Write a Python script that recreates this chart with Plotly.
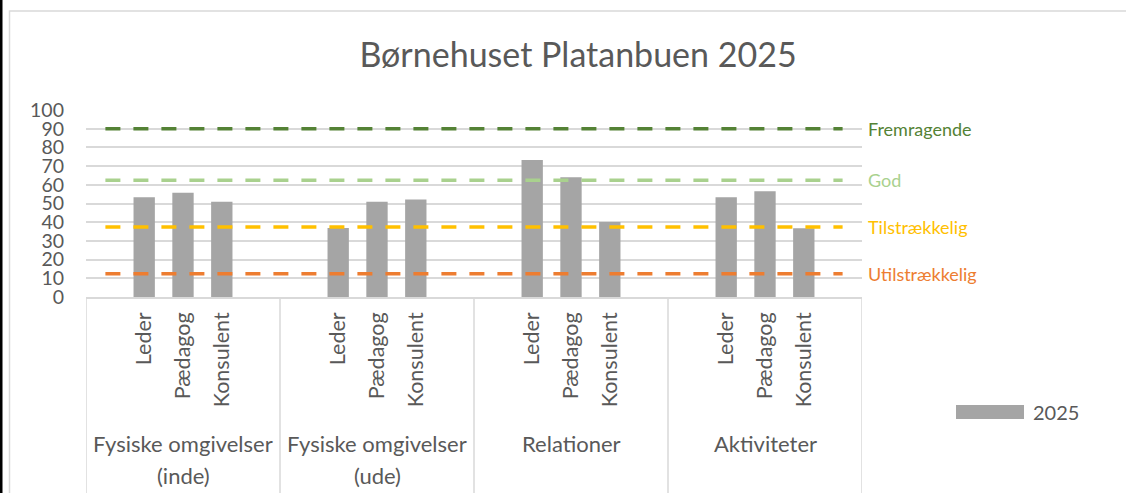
import plotly.graph_objects as go

# ---- data ----
title_text = "Børnehuset Platanbuen 2025"
group_line1 = ["Fysiske omgivelser", "Fysiske omgivelser", "Relationer", "Aktiviteter"]
group_line2 = ["(inde)", "(ude)", "", ""]
roles = ["Leder", "Pædagog", "Konsulent"]
values_2025 = [53.3, 55.8, 51.0,
               36.9, 51.0, 52.1,
               73.3, 64.0, 40.1,
               53.3, 56.5, 36.7]
series_name = "2025"
threshold_names = ["Fremragende", "God", "Tilstrækkelig", "Utilstrækkelig"]
threshold_values = [90, 62.5, 37.5, 12.5]
threshold_colors = ["#548235", "#A9D18E", "#FFC000", "#ED7D31"]
y_ticks = [0, 10, 20, 30, 40, 50, 60, 70, 80, 90, 100]

# ---- layout helpers ----
FONT = "Lato"
TXT = "#595959"
GRID = "#D9D9D9"
slots_per_group = 5
n_groups = len(group_line1)
n_slots = slots_per_group * n_groups

x_pos = []
x_lab = []
for g in range(n_groups):
    for r, role in enumerate(roles):
        x_pos.append(g * slots_per_group + 1 + r)
        x_lab.append(role)

# plot area in pixels
L, R, T, B = 86, 264, 110, 196
W, H = 1126, 493
pw, ph = W - L - R, H - T - B

def px_x(px):
    return (px - L) / pw

def px_y(py):
    return (H - B - py) / ph

fig = go.Figure()

fig.add_trace(go.Bar(
    x=x_pos, y=values_2025, name=series_name,
    marker=dict(color="#A5A5A5", line=dict(width=0)),
    width=0.55, showlegend=False,
))

for name, val, col in zip(threshold_names, threshold_values, threshold_colors):
    fig.add_trace(go.Scatter(
        x=[0, n_slots - 1], y=[val, val], mode="lines", name=name,
        line=dict(color=col, width=3.5, dash="15px,13px"),
        showlegend=False, hoverinfo="skip",
    ))

shapes = []
annotations = []

# group dividers
for g in range(n_groups + 1):
    xd = g * slots_per_group - 0.5
    shapes.append(dict(type="line", xref="x", yref="paper", x0=xd, x1=xd,
                       y0=0, y1=px_y(H + 10), line=dict(color=GRID, width=1.5)))

# group labels
for g in range(n_groups):
    xc = g * slots_per_group + (slots_per_group - 1) / 2
    annotations.append(dict(x=xc, xref="x", y=px_y(443), yref="paper",
                            text=group_line1[g], showarrow=False,
                            xanchor="center", yanchor="middle",
                            font=dict(family=FONT, size=22, color=TXT)))
    if group_line2[g]:
        annotations.append(dict(x=xc, xref="x", y=px_y(475), yref="paper",
                                text=group_line2[g], showarrow=False,
                                xanchor="center", yanchor="middle",
                                font=dict(family=FONT, size=22, color=TXT)))

# threshold labels
for name, val, col in zip(threshold_names, threshold_values, threshold_colors):
    annotations.append(dict(x=px_x(866), xref="paper", y=val, yref="y",
                            text=name, showarrow=False,
                            xanchor="left", yanchor="middle",
                            font=dict(family=FONT, size=18, color=col)))

# legend (wide swatch like the original)
shapes.append(dict(type="rect", xref="paper", yref="paper",
                   x0=px_x(956), x1=px_x(1024), y0=px_y(419), y1=px_y(405),
                   fillcolor="#A5A5A5", line=dict(width=0)))
annotations.append(dict(x=px_x(1031), xref="paper", y=px_y(412), yref="paper",
                        text=series_name, showarrow=False,
                        xanchor="left", yanchor="middle",
                        font=dict(family=FONT, size=20, color=TXT)))

# chart border and left edge strip
shapes.append(dict(type="rect", xref="paper", yref="paper",
                   x0=px_x(9.5), x1=px_x(W + 20), y0=px_y(H + 20), y1=px_y(11),
                   line=dict(color=GRID, width=1.5), fillcolor="rgba(0,0,0,0)"))
shapes.append(dict(type="rect", xref="paper", yref="paper",
                   x0=px_x(-2), x1=px_x(2.5), y0=px_y(H + 20), y1=px_y(-20),
                   fillcolor="#000000", line=dict(width=0)))

fig.update_layout(
    width=W, height=H,
    margin=dict(l=L, r=R, t=T, b=B),
    paper_bgcolor="white", plot_bgcolor="white",
    font=dict(family=FONT, color=TXT),
    title=dict(text=title_text, x=px_x(578), xref="paper", xanchor="center",
               y=1 - 55 / H, yref="container", yanchor="middle",
               font=dict(family=FONT, size=34, color=TXT)),
    xaxis=dict(range=[-0.5, n_slots - 0.5], tickmode="array",
               tickvals=x_pos, ticktext=x_lab, tickangle=-90,
               tickfont=dict(family=FONT, size=21.5, color=TXT),
               showgrid=False, zeroline=False, ticks="",
               showline=True, linecolor=GRID, linewidth=1.5,
               ticklabelstandoff=5, fixedrange=True),
    yaxis=dict(range=[0, 100], tickmode="array", tickvals=y_ticks,
               tickfont=dict(family=FONT, size=19.5, color=TXT),
               showgrid=True, gridcolor=GRID, gridwidth=1.5,
               zeroline=False, showline=False, ticks="",
               ticklabelstandoff=21, fixedrange=True),
    bargap=0.45,
    shapes=shapes,
    annotations=annotations,
    showlegend=False,
)

fig.write_html(
    "out.html",
    config={"displayModeBar": False},
    post_script="document.body.style.margin='0';document.body.style.overflow='hidden';",
)
